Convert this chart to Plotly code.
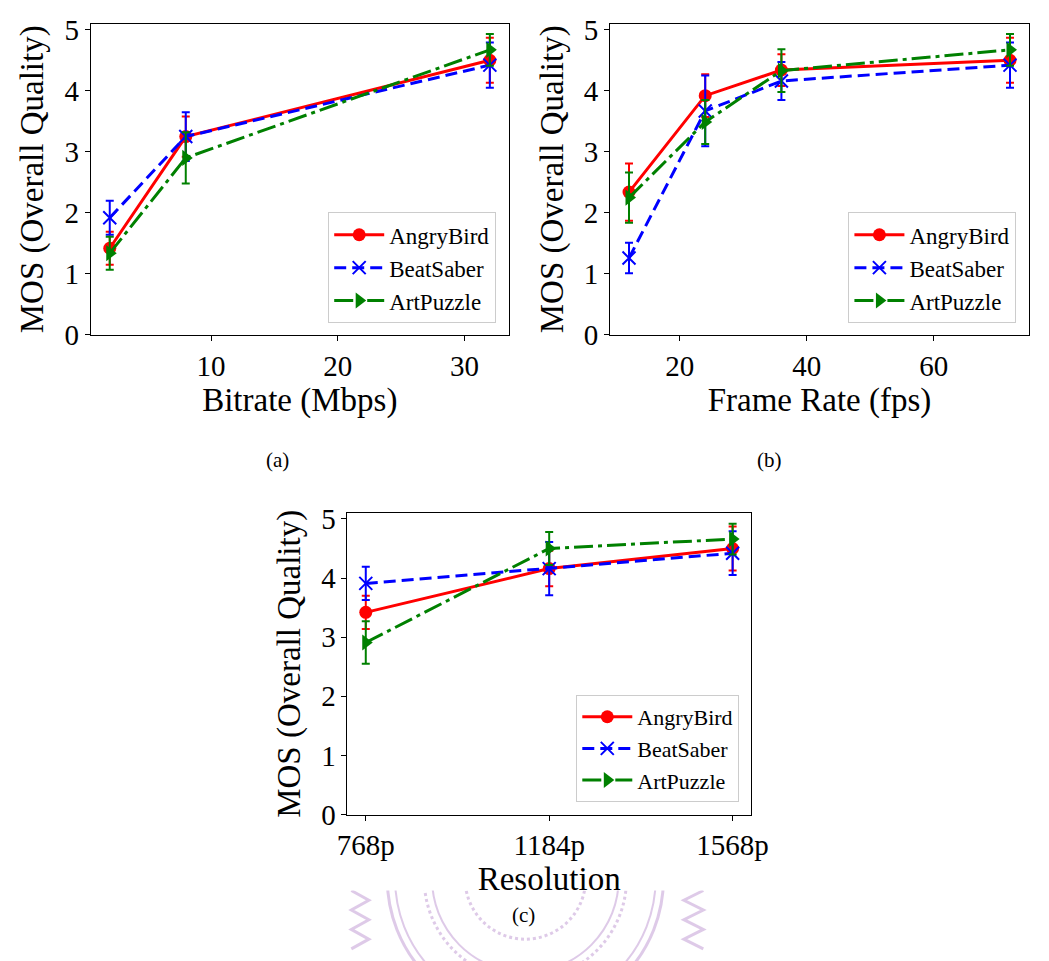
import plotly.graph_objects as go

# ---- data -------------------------------------------------------------
bitrate = [2, 8, 32]
framerate = [12, 24, 36, 72]
resolution = ["768p", "1184p", "1568p"]

angry_bitrate = [1.42, 3.25, 4.50]
angry_bitrate_err = [0.27, 0.33, 0.37]
beat_bitrate = [1.92, 3.25, 4.42]
beat_bitrate_err = [0.28, 0.40, 0.37]
art_bitrate = [1.34, 2.90, 4.67]
art_bitrate_err = [0.27, 0.42, 0.26]

angry_fps = [2.34, 3.92, 4.34, 4.50]
angry_fps_err = [0.47, 0.35, 0.26, 0.37]
beat_fps = [1.26, 3.67, 4.16, 4.42]
beat_fps_err = [0.25, 0.58, 0.31, 0.37]
art_fps = [2.25, 3.49, 4.33, 4.67]
art_fps_err = [0.41, 0.36, 0.35, 0.26]

angry_res = [3.42, 4.16, 4.50]
angry_res_err = [0.28, 0.30, 0.37]
beat_res = [3.91, 4.16, 4.42]
beat_res_err = [0.28, 0.45, 0.37]
art_res = [2.91, 4.50, 4.66]
art_res_err = [0.36, 0.28, 0.26]

games = ["AngryBird", "BeatSaber", "ArtPuzzle"]

# ---- styling ----------------------------------------------------------
W, H = 1049, 961
FONT = "Liberation Serif, Times New Roman, serif"
styles = {
    "AngryBird": dict(color="#ff0000", dash="solid", symbol="circle", size=13, mline=0),
    "BeatSaber": dict(color="#0000ff", dash="12px,6px", symbol="x-thin-open", size=13, mline=2),
    "ArtPuzzle": dict(color="#008000", dash="19px,5px,4px,5px", symbol="triangle-right", size=14, mline=0),
}


def px_x(p):
    return p / W


def px_y(p):
    return 1 - p / H


fig = go.Figure()


def add_panel(xs, series, errs, xaxis, yaxis, legend):
    for name, ys, es in zip(games, series, errs):
        s = styles[name]
        fig.add_trace(go.Scatter(
            x=xs, y=ys, name=name, mode="lines+markers",
            xaxis=xaxis, yaxis=yaxis, legend=legend,
            line=dict(color=s["color"], width=3, dash=s["dash"]),
            marker=dict(symbol=s["symbol"], size=s["size"], color=s["color"],
                        line=dict(color=s["color"], width=s["mline"])),
            error_y=dict(type="data", array=es, visible=True, color=s["color"],
                         thickness=2, width=4),
        ))


add_panel(bitrate, [angry_bitrate, beat_bitrate, art_bitrate],
          [angry_bitrate_err, beat_bitrate_err, art_bitrate_err], "x", "y", "legend")
add_panel(framerate, [angry_fps, beat_fps, art_fps],
          [angry_fps_err, beat_fps_err, art_fps_err], "x2", "y2", "legend2")
add_panel(resolution, [angry_res, beat_res, art_res],
          [angry_res_err, beat_res_err, art_res_err], "x3", "y3", "legend3")

axis_common = dict(
    showline=True, linecolor="black", linewidth=1, mirror=True,
    ticks="outside", ticklen=5, tickwidth=1, tickcolor="black",
    showgrid=False, zeroline=False,
    tickfont=dict(family=FONT, size=29, color="black"),
    title_font=dict(family=FONT, size=33, color="black"),
)

y_common = dict(axis_common, range=[0, 5.1], tickvals=[0, 1, 2, 3, 4, 5],
                title_text="MOS (Overall Quality)", title_standoff=10)

fig.update_layout(
    width=W, height=H,
    margin=dict(l=0, r=0, t=0, b=0),
    paper_bgcolor="white", plot_bgcolor="white",
    font=dict(family=FONT, color="black"),
    xaxis=dict(axis_common, domain=[px_x(82), px_x(512)], range=[0.5, 33.5],
               tickvals=[10, 20, 30], title_text="Bitrate (Mbps)",
               title_standoff=0, anchor="y"),
    yaxis=dict(y_common, domain=[px_y(334), px_y(14)], anchor="x"),
    xaxis2=dict(axis_common, domain=[px_x(616), px_x(1047)], range=[9, 75],
                tickvals=[20, 40, 60], title_text="Frame Rate (fps)",
                title_standoff=0, anchor="y2"),
    yaxis2=dict(y_common, domain=[px_y(334), px_y(14)], anchor="x2"),
    xaxis3=dict(axis_common, domain=[px_x(346), px_x(761)], range=[-0.1, 2.1],
                type="category", title_text="Resolution",
                title_standoff=0, anchor="y3"),
    yaxis3=dict(y_common, domain=[px_y(827), px_y(517)], anchor="x3"),
)

legend_common = dict(
    bgcolor="rgba(255,255,255,0.8)", bordercolor="#cccccc", borderwidth=1,
    xanchor="right", yanchor="bottom", itemwidth=50,
    font=dict(family=FONT, size=23, color="black"),
)
fig.update_layout(
    legend=dict(legend_common, x=px_x(499), y=px_y(322)),
    legend2=dict(legend_common, x=px_x(1034), y=px_y(322)),
    legend3=dict(legend_common, x=px_x(749), y=px_y(814),
                 font=dict(family=FONT, size=22, color="black")),
)

# panel captions
for label, cx, cy in [("(a)", 260, 463), ("(b)", 795, 463), ("(c)", 527, 945)]:
    fig.add_annotation(text=label, x=px_x(cx), y=px_y(cy), xref="paper", yref="paper",
                       showarrow=False, font=dict(family=FONT, size=21, color="black"))

# faint seal watermark at the bottom of the page
seal = "rgba(190,150,210,0.5)"
cx, cy = 529, 893
for r, w, d in [(142, 3, "solid"), (134, 2, "solid"), (104, 3, "dot"),
                (96, 2, "solid"), (62, 3, "dot")]:
    fig.add_shape(type="circle", xref="paper", yref="paper", layer="below",
                  x0=px_x(cx - r), x1=px_x(cx + r), y0=px_y(cy + r), y1=px_y(cy - r),
                  line=dict(color=seal, width=w, dash=d))
for x0, x1 in [(350, 368), (712, 692)]:
    pts = [(x0 if i % 2 == 0 else x1, 905 + i * 10) for i in range(7)]
    path = "M " + " L ".join(f"{px_x(a)},{px_y(b)}" for a, b in pts)
    fig.add_shape(type="path", path=path, xref="paper", yref="paper", layer="below",
                  line=dict(color=seal, width=3))
# the chart sheet sits over the upper part of the seal
fig.add_shape(type="rect", xref="paper", yref="paper", layer="below",
              x0=0, x1=1, y0=px_y(905), y1=1, fillcolor="white", line=dict(width=0))

fig.write_html("out.html")
